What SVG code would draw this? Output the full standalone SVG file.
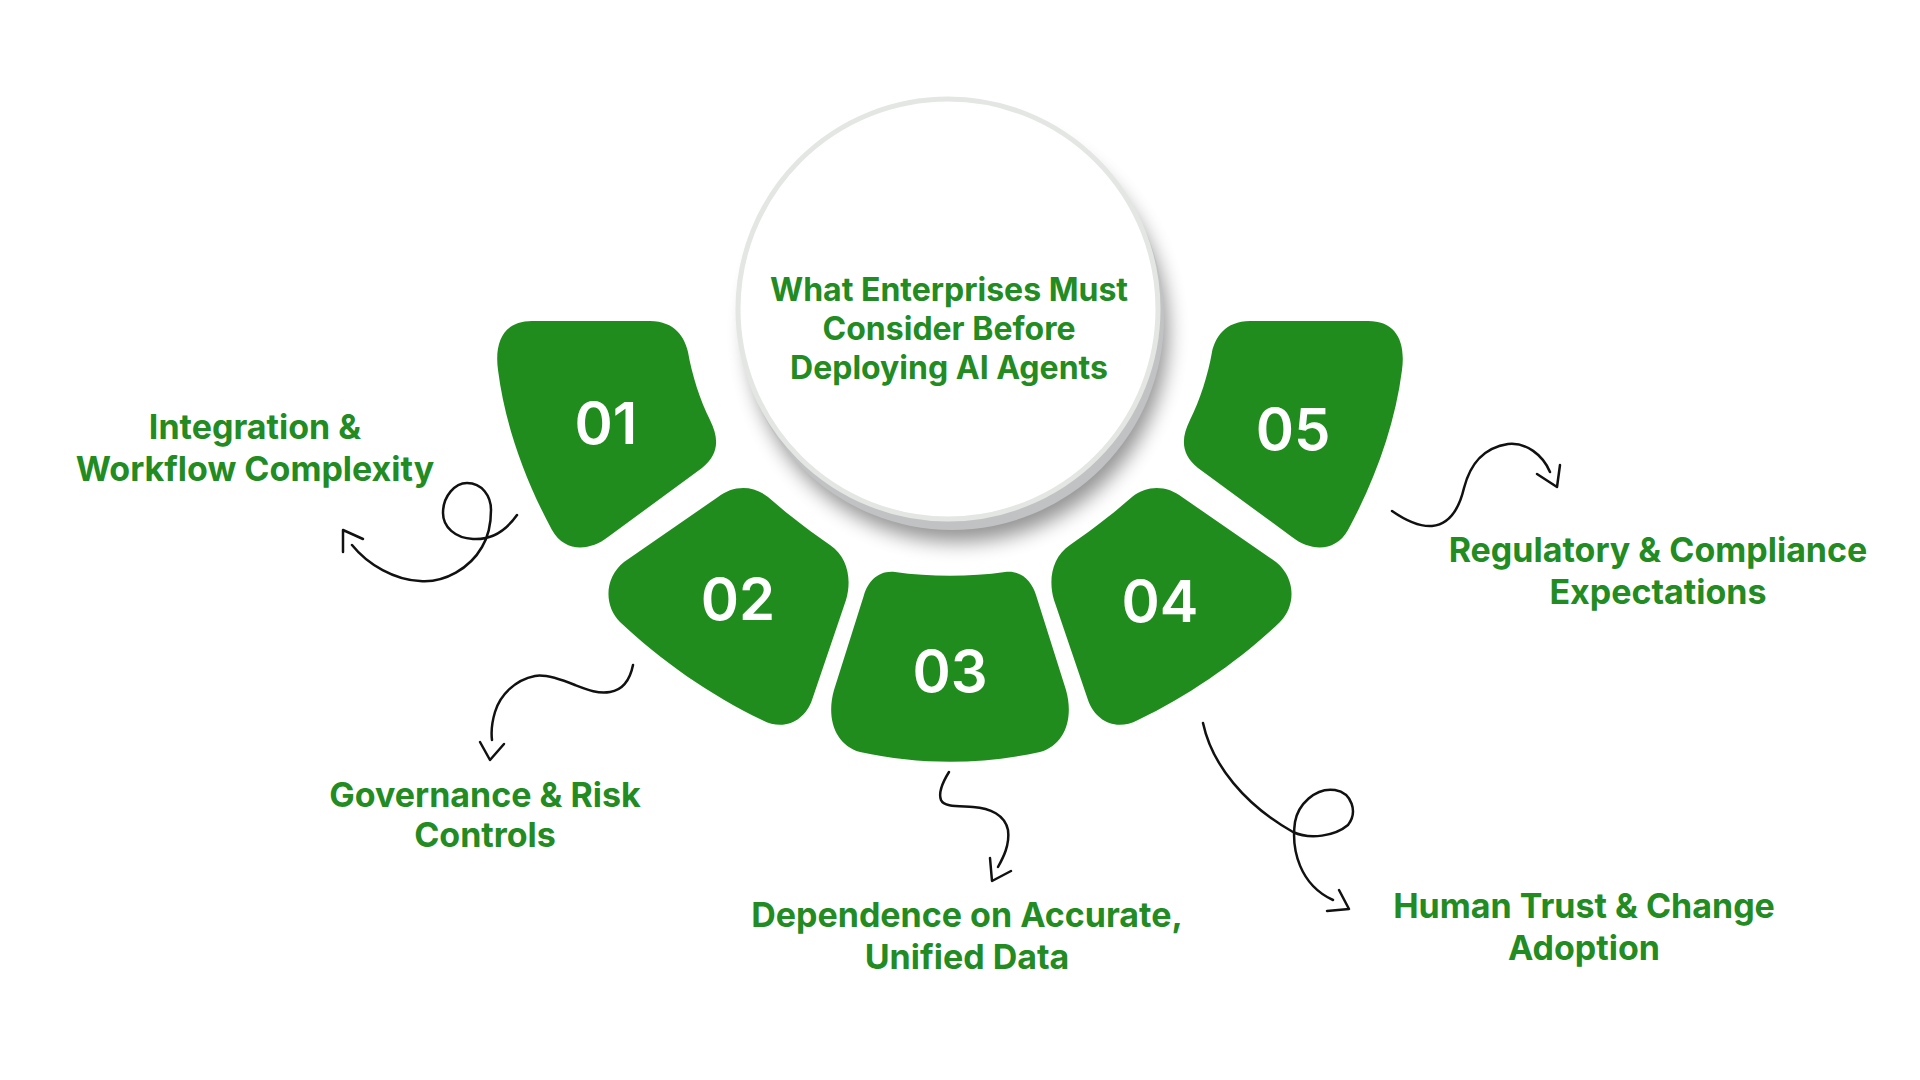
<svg xmlns="http://www.w3.org/2000/svg" width="1920" height="1080" viewBox="0 0 1920 1080">
<defs>
<style>
.seg{fill:#218c1e}
.num{font-family:Inter,"Liberation Sans",sans-serif;font-weight:600;font-size:58px;fill:#ffffff;text-anchor:middle}
.lbl{font-family:Inter,"Liberation Sans",sans-serif;font-weight:700;font-size:34px;fill:#228b22;text-anchor:middle}
.ttl{font-family:Inter,"Liberation Sans",sans-serif;font-weight:700;font-size:32px;fill:#228b22;text-anchor:middle}
.con{fill:none;stroke:#111;stroke-width:2.5;stroke-linecap:round;stroke-linejoin:round}
</style>
<filter id="sh" x="-20%" y="-20%" width="140%" height="140%">
<feGaussianBlur stdDeviation="10"/>
</filter>
</defs>
<rect width="1920" height="1080" fill="#ffffff"/>

<g id="center">
<circle cx="958" cy="332" r="210" fill="#000" opacity="0.42" filter="url(#sh)"/>
<circle cx="952" cy="318" r="212" fill="#c1c2c3"/>
<circle cx="948" cy="309" r="210" fill="#ffffff" stroke="#e3e6e3" stroke-width="5"/>
<text class="ttl" x="949" y="301">What Enterprises Must</text>
<text class="ttl" x="949" y="340">Consider Before</text>
<text class="ttl" x="949" y="379">Deploying AI Agents</text>
</g>

<g id="node01">
<path class="seg" d="M 532,321 L 650,321 C 675,321 685,338 688,352 C 692,375 700,400 710,420 C 720,440 718,455 702,468 L 608,537 C 590,551 565,553 552,530 C 525,480 505,425 498,370 C 494,340 505,321 532,321 Z"/>
<text class="num" x="606" y="444">01</text>
<text class="lbl" x="255" y="439">Integration &amp;</text>
<text class="lbl" x="255" y="481">Workflow Complexity</text>
</g>

<g id="node02">
<path class="seg" d="M 718,497 C 732,486 752,484 768,497 C 785,512 808,530 830,545 C 848,557 852,580 846,600 L 812,700 C 805,720 785,732 762,720 C 710,695 660,660 620,622 C 604,606 604,578 624,562 Z"/>
<text class="num" x="738" y="620">02</text>
<text class="lbl" x="485" y="807">Governance &amp; Risk</text>
<text class="lbl" x="485" y="847">Controls</text>
</g>

<g id="node03">
<path class="seg" d="M 895,572 C 930,577 970,577 1005,572 C 1022,570 1032,582 1036,595 L 1066,690 C 1074,718 1065,745 1040,752 C 980,765 920,765 860,752 C 835,745 826,718 834,690 L 864,595 C 868,582 878,570 895,572 Z"/>
<text class="num" x="950" y="692">03</text>
<text class="lbl" x="967" y="927">Dependence on Accurate,</text>
<text class="lbl" x="967" y="969">Unified Data</text>
</g>

<g id="node04">
<path class="seg" d="M 1182,497 C 1168,486 1148,484 1132,497 C 1115,512 1092,530 1070,545 C 1052,557 1048,580 1054,600 L 1088,700 C 1095,720 1115,732 1138,720 C 1190,695 1240,660 1280,622 C 1296,606 1296,578 1276,562 Z"/>
<text class="num" x="1160" y="622">04</text>
<text class="lbl" x="1584" y="918">Human Trust &amp; Change</text>
<text class="lbl" x="1584" y="960">Adoption</text>
</g>

<g id="node05">
<path class="seg" d="M 1368,321 L 1250,321 C 1225,321 1215,338 1212,352 C 1208,375 1200,400 1190,420 C 1180,440 1182,455 1198,468 L 1292,537 C 1310,551 1335,553 1348,530 C 1375,480 1395,425 1402,370 C 1406,340 1395,321 1368,321 Z"/>
<text class="num" x="1293" y="450">05</text>
<text class="lbl" x="1658" y="562">Regulatory &amp; Compliance</text>
<text class="lbl" x="1658" y="604">Expectations</text>
</g>

<g id="connectors">
<path class="con" d="M 517,515 C 505,532 490,540 473,539 C 455,538 443,527 443,513 C 443,496 455,483 467,483 C 482,483 491,496 491,510 C 491,525 488,537 482,547 C 470,568 445,583 420,581 C 395,580 368,565 352,545"/>
<polyline class="con" points="343,552 343,530 363,539"/>
<path class="con" d="M 633,665 C 630,680 622,690 610,692 C 598,694 588,690 575,685 C 560,679 545,674 535,676 C 515,680 500,695 495,712 C 492,722 491,732 492,740"/>
<polyline class="con" points="480,742 490,760 504,744"/>
<path class="con" d="M 949,772 C 944,780 938,792 941,800 C 944,807 958,806 973,807 C 990,808 1005,815 1008,830 C 1010,845 1003,858 998,867"/>
<polyline class="con" points="990,858 992,881 1011,871"/>
<path class="con" d="M 1203,723 C 1212,765 1245,805 1293,832 C 1310,840 1335,836 1348,825 C 1358,812 1352,793 1335,790 C 1315,787 1298,805 1295,822 C 1291,850 1300,885 1333,900"/>
<polyline class="con" points="1339,890 1349,909 1327,911"/>
<path class="con" d="M 1392,511 C 1405,520 1418,527 1432,526 C 1452,524 1460,505 1464,488 C 1470,465 1482,448 1508,444 C 1526,442 1543,455 1550,472"/>
<polyline class="con" points="1560,465 1557,487 1537,474"/>
</g>
</svg>
